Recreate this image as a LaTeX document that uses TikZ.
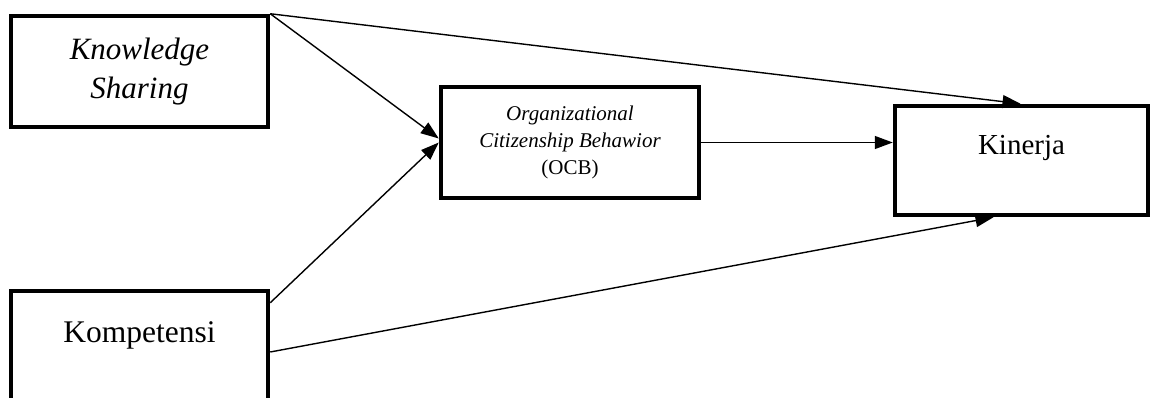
\documentclass[tikz,border=0pt]{standalone}
\usepackage{fontspec}
\setmainfont{Liberation Serif}
\usetikzlibrary{arrows.meta}

\begin{document}
\begin{tikzpicture}[x=1pt, y=1pt,
    variabel/.style ={rectangle, draw, line width=4.5pt, inner sep=0pt, align=center},
    panah/.style ={line width=1.4pt, -{Triangle[length=18pt, width=13pt]}}]
   \useasboundingbox (0,0) rectangle (1152,-398);

   \node[variabel, minimum width=257pt, minimum height=111pt,
         font=\fontsize{31}{39}\selectfont\itshape] (ks) at (139.5,-71.5) {Knowledge\\Sharing};
   \node[variabel, text width=257pt, text height=51pt, text depth=63pt,
         font=\fontsize{31.5}{38}\selectfont] (komp) at (139.5,-348) {Kompetensi};
   \node[variabel, minimum width=258pt, minimum height=111pt,
         font=\fontsize{21}{27}\selectfont] (ocb) at (570,-142.5)
         {\itshape Organizational\\\itshape Citizenship Behawior\\(OCB)};
   \node[variabel, text width=253pt, text height=49pt, text depth=60pt,
         font=\fontsize{29}{36}\selectfont] (kin) at (1021.5,-160.5) {Kinerja};

   \draw[panah] (ks.north east) to ([yshift=4pt]ocb.west);
   \draw[panah] ([yshift=-14pt]komp.north east) to (ocb.west);
   \draw[panah] (ks.north east) to ([xshift=-1pt]kin.north);
   \draw[panah] (ocb.east) to ([yshift=18pt]kin.west);
   \draw[panah] ([yshift=-4pt]komp.east) to ([xshift=-28pt]kin.south);

 \end{tikzpicture}
\end{document}
